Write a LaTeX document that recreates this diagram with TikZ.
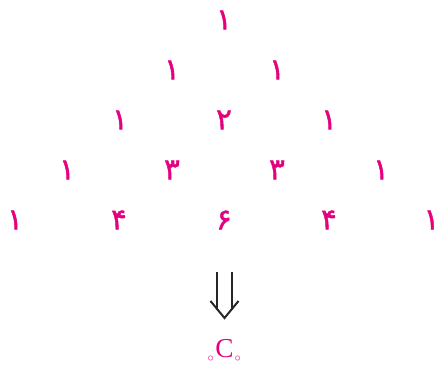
\documentclass[tikz,border=0pt]{standalone}
\usepackage{fontspec}
\setmainfont{Liberation Serif}
\newfontfamily\arabicfont[Script=Arabic,FakeBold=1.5]{DejaVu Sans}
\definecolor{pink}{HTML}{E5007D}
\tikzset{
  num/.style={text=pink, font=\arabicfont\fontsize{22}{22}\selectfont, inner sep=0pt},
  sub/.style={text=pink, font=\fontsize{9}{9}\selectfont, inner sep=0pt},
  implies/.style={black!85, line width=1.5pt, line join=miter},
}
\begin{document}
\begin{tikzpicture}[x=0.75pt,y=-0.75pt]
  \useasboundingbox (0,0) rectangle (438,365);
  % row 0
  \node[num] (r0c0) at (224,20) {۱};
  % row 1
  \node[num] (r1c0) at (172,70) {۱};
  \node[num] (r1c1) at (277,70) {۱};
  % row 2
  \node[num] (r2c0) at (120,120) {۱};
  \node[num] (r2c1) at (224,120) {۲};
  \node[num] (r2c2) at (329,120) {۱};
  % row 3
  \node[num] (r3c0) at (67,170) {۱};
  \node[num] (r3c1) at (172,170) {۳};
  \node[num] (r3c2) at (277,170) {۳};
  \node[num] (r3c3) at (381,170) {۱};
  % row 4
  \node[num] (r4c0) at (15,220) {۱};
  \node[num] (r4c1) at (119,220) {۴};
  \node[num] (r4c2) at (224,220) {۶};
  \node[num] (r4c3) at (329,220) {۴};
  \node[num] (r4c4) at (431.5,220) {۱};
  % implication arrow: two shafts and an open chevron head
  \coordinate (tipL) at (210.5,301);
  \coordinate (tip) at (224.5,318);
  \coordinate (tipR) at (238.5,301);
  \draw[implies] (tipL) -- (tip) -- (tipR);
  \draw[implies] (217,272) -- (217,309.5);
  \draw[implies] (232,272) -- (232,309.5);
  % binomial symbol with its two indices
  \node[text=pink, font=\fontsize{20.5}{20.5}\selectfont, inner sep=0pt] (binom) at (224.5,349) {C};
  \node[sub] (lsub) at (210.7,358.5) {$\circ$};
  \node[sub] (rsub) at (237.7,358.5) {$\circ$};
\end{tikzpicture}
\end{document}
